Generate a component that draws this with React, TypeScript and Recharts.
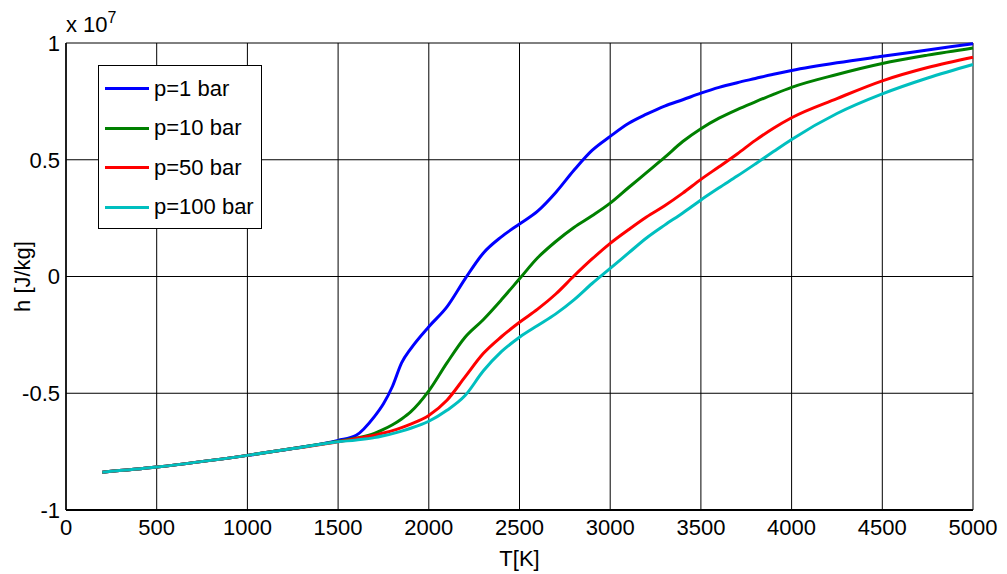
import { LineChart, Line, XAxis, YAxis, CartesianGrid } from "recharts";

// temperature grid [K]
const temps = [200, 500, 1000, 1250, 1500, 1600, 1700, 1750, 1800, 1850, 1900, 2000, 2100, 2200, 2300, 2400, 2500, 2600, 2700, 2800, 2900, 3000, 3100, 3200, 3300, 3400, 3500, 3600, 3700, 3800, 3900, 4000, 4250, 4500, 4750, 5000];

// enthalpy h [J/kg] in units of 1e7
const h1bar = [-0.838, -0.816, -0.766, -0.737, -0.702, -0.68, -0.6, -0.545, -0.47, -0.37, -0.31, -0.215, -0.13, -0.01, 0.1, 0.17, 0.225, 0.28, 0.36, 0.455, 0.54, 0.6, 0.655, 0.695, 0.73, 0.757, 0.785, 0.81, 0.83, 0.848, 0.866, 0.882, 0.915, 0.943, 0.97, 0.997];
const h10bar = [-0.838, -0.816, -0.766, -0.737, -0.706, -0.692, -0.672, -0.655, -0.635, -0.61, -0.58, -0.49, -0.37, -0.26, -0.185, -0.1, -0.01, 0.08, 0.15, 0.21, 0.26, 0.314, 0.38, 0.445, 0.51, 0.578, 0.633, 0.678, 0.715, 0.748, 0.78, 0.81, 0.865, 0.912, 0.948, 0.979];
const h50bar = [-0.838, -0.816, -0.766, -0.737, -0.708, -0.694, -0.68, -0.67, -0.66, -0.647, -0.632, -0.595, -0.53, -0.43, -0.33, -0.258, -0.196, -0.14, -0.075, 0.002, 0.075, 0.142, 0.2, 0.255, 0.303, 0.357, 0.416, 0.47, 0.525, 0.583, 0.635, 0.68, 0.762, 0.838, 0.895, 0.939];
const h100bar = [-0.838, -0.816, -0.766, -0.737, -0.708, -0.7, -0.69, -0.682, -0.673, -0.662, -0.65, -0.62, -0.573, -0.51, -0.405, -0.322, -0.26, -0.21, -0.16, -0.1, -0.03, 0.035, 0.1, 0.165, 0.22, 0.272, 0.328, 0.38, 0.43, 0.482, 0.535, 0.587, 0.698, 0.782, 0.85, 0.908];

const xTicks = [0, 500, 1000, 1500, 2000, 2500, 3000, 3500, 4000, 4500, 5000];
const yTicks = [-1, -0.5, 0, 0.5, 1];

const series = [
  { key: "p1", name: "p=1 bar", color: "#0000ff" },
  { key: "p10", name: "p=10 bar", color: "#008000" },
  { key: "p50", name: "p=50 bar", color: "#ff0000" },
  { key: "p100", name: "p=100 bar", color: "#00bfbf" },
];

const data = temps.map((t, i) => ({
  T: t,
  p1: h1bar[i],
  p10: h10bar[i],
  p50: h50bar[i],
  p100: h100bar[i],
}));

const font = "Arial, 'Liberation Sans', sans-serif";
const fs = 22;

function LegendBox() {
  return (
    <div
      style={{
        position: "absolute",
        left: 98,
        top: 65,
        border: "1px solid #000",
        background: "#fff",
        width: 164,
        height: 164,
        boxSizing: "border-box",
        padding: "3px 0 0 6px",
        fontFamily: font,
        fontSize: fs,
        color: "#000",
        whiteSpace: "nowrap",
      }}
    >
      {series.map((s) => (
        <div key={s.key} style={{ display: "flex", alignItems: "center", height: 39.5 }}>
          <span style={{ display: "inline-block", width: 44, height: 3, background: s.color, marginRight: 5 }} />
          <span>{s.name}</span>
        </div>
      ))}
    </div>
  );
}

function YLabel({ viewBox }: any) {
  const cy = viewBox.y + viewBox.height / 2;
  return (
    <text
      x={22}
      y={cy}
      transform={`rotate(-90, 22, ${cy})`}
      textAnchor="middle"
      dominantBaseline="central"
      fill="#000"
      fontSize={fs}
      fontFamily={font}
    >
      h [J/kg]
    </text>
  );
}

export default function App() {
  return (
    <div style={{ position: "absolute", left: 0, top: 0, width: 1007, height: 574, background: "#fff", fontFamily: font }}>
      <LineChart width={1007} height={574} data={data} margin={{ top: 43, right: 34, bottom: 34, left: 0 }}>
        <CartesianGrid stroke="#000" strokeWidth={1} horizontalValues={yTicks} verticalValues={xTicks} />
        <XAxis
          dataKey="T"
          type="number"
          domain={[0, 5000]}
          ticks={xTicks}
          height={30}
          tickLine={false}
          tickSize={7}
          axisLine={{ stroke: "#000", strokeWidth: 2 }}
          tick={{ fill: "#000", fontSize: fs, fontFamily: font }}
          label={{ value: "T[K]", position: "insideBottom", offset: -26, fill: "#000", fontSize: fs, fontFamily: font }}
        />
        <YAxis
          type="number"
          domain={[-1, 1]}
          ticks={yTicks}
          width={66}
          tickLine={false}
          tickSize={4}
          axisLine={{ stroke: "#000", strokeWidth: 1.5 }}
          tick={{ fill: "#000", fontSize: fs, fontFamily: font }}
          label={<YLabel />}
        />
        {series.map((s) => (
          <Line
            key={s.key}
            type="monotone"
            dataKey={s.key}
            name={s.name}
            stroke={s.color}
            strokeWidth={3}
            dot={false}
            isAnimationActive={false}
          />
        ))}
      </LineChart>
      <LegendBox />
      <div style={{ position: "absolute", left: 66, top: 14, fontSize: fs, color: "#000", lineHeight: 1, whiteSpace: "nowrap" }}>
        x 10<span style={{ fontSize: 16, position: "relative", top: -9 }}>7</span>
      </div>
    </div>
  );
}
